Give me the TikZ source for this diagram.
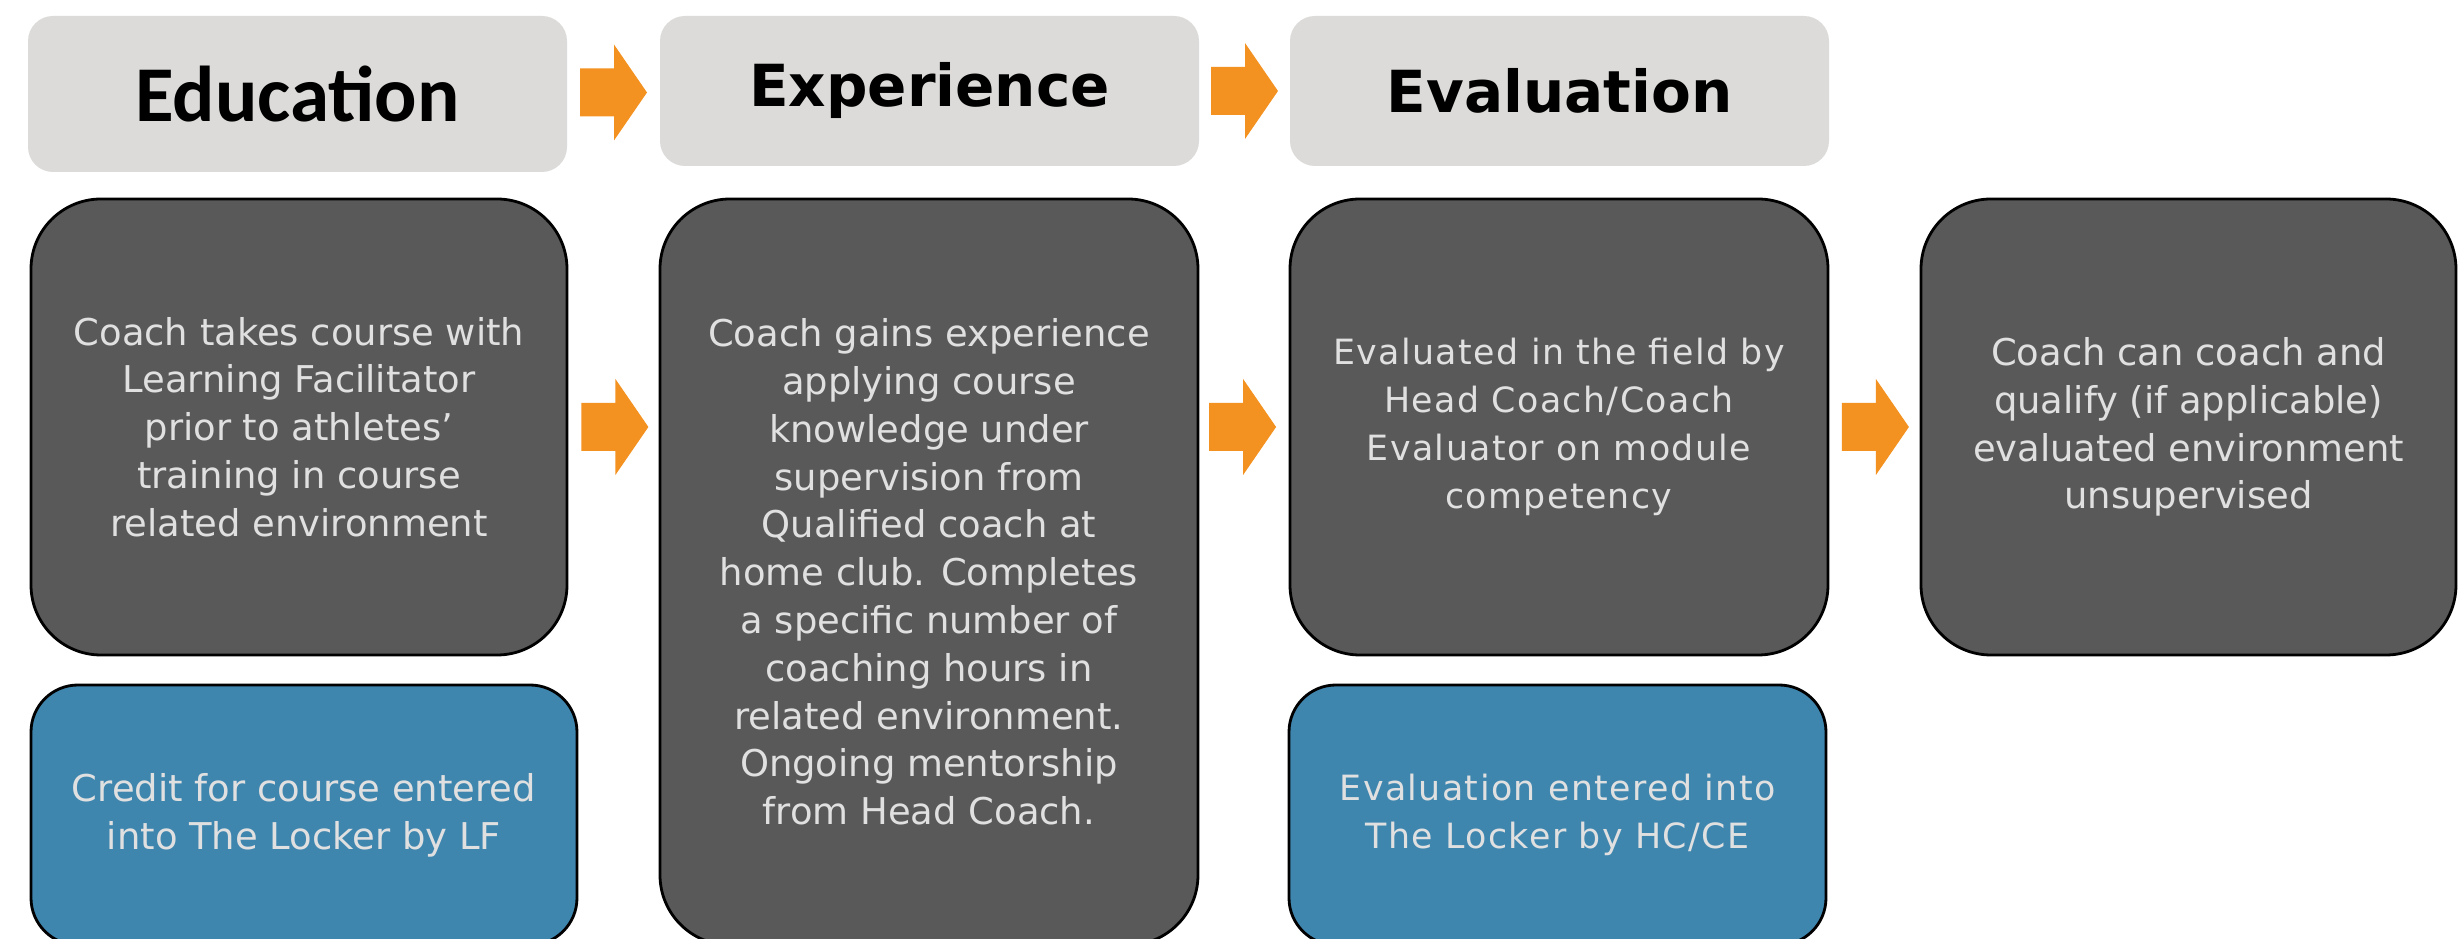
\documentclass[tikz,border=0pt]{standalone}
\usepackage{fontspec}
\setmainfont{DejaVu Sans}
\newfontfamily\calfont{Carlito}
\newfontfamily\spacedfont{DejaVu Sans}[LetterSpace=4]
\usetikzlibrary{calc}
\definecolor{headgray}{HTML}{DCDBD9}
\definecolor{boxgray}{HTML}{595959}
\definecolor{textgray}{HTML}{E0E0E0}
\definecolor{lockerblue}{HTML}{3F86AF}
\definecolor{arrowor}{HTML}{F39221}
\tikzset{
	header/.style={fill=headgray,rounded corners=0.25cm,minimum width=5.39cm,inner sep=0pt,align=center},
	stepbox/.style={draw=black,line width=0.8pt,fill=boxgray,rounded corners=0.7cm,minimum width=5.36cm,inner sep=0pt,align=center,text=textgray,font=\fontsize{10.5}{13.6}\selectfont},
	lockerbox/.style={draw=black,line width=0.8pt,fill=lockerblue,rounded corners=0.47cm,inner sep=0pt,align=center,text=textgray,font=\fontsize{10.5}{13.6}\selectfont}
}
\newcommand{\fatarrow}[1]{
	\fill[arrowor] #1 ++(-0.335,0.24) -- ++(0.34,0) -- ++(0,0.24) -- ++(0.33,-0.48) -- ++(-0.33,-0.48) -- ++(0,0.24) -- ++(-0.34,0) -- cycle;
}
\begin{document}
\begin{tikzpicture}
				\useasboundingbox (0,0) rectangle (24.58,-9.39);
				\node[header,minimum height=1.56cm,font=\calfont\bfseries\fontsize{22.5}{26}\selectfont] (edu) at (2.975,-0.94) {Education};
				\node[header,minimum height=1.50cm,font=\bfseries\fontsize{16.5}{20}\selectfont] (exp) at (9.295,-0.91) {Experience};
				\node[header,minimum height=1.50cm,font=\bfseries\fontsize{16.5}{20}\selectfont] (eval) at (15.595,-0.91) {Evaluation};
				\node[stepbox,minimum height=4.56cm] (course) at (2.99,-4.27) {Coach takes course with\\Learning Facilitator\\prior to athletes'\\training in course\\related environment};
				\node[stepbox,minimum width=5.38cm,minimum height=7.46cm] (practice) at (9.29,-5.72) {Coach gains experience\\applying course\\knowledge under\\supervision from\\Qualified coach at\\home club. Completes\\a specific number of\\coaching hours in\\related environment.\\Ongoing mentorship\\from Head Coach.};
				\node[stepbox,minimum width=5.38cm,minimum height=4.56cm,font=\spacedfont\fontsize{9.9}{13.6}\selectfont] (field) at (15.59,-4.27) {Evaluated in the field by\\Head Coach/Coach\\Evaluator on module\\competency};
				\node[stepbox,minimum width=5.35cm,minimum height=4.56cm] (qualify) at (21.885,-4.27) {Coach can coach and\\qualify (if applicable)\\evaluated environment\\unsupervised};
				\node[lockerbox,minimum width=5.46cm,minimum height=2.6cm] (credit) at (3.04,-8.15) {Credit for course entered\\into The Locker by LF};
				\node[lockerbox,minimum width=5.37cm,minimum height=2.6cm,font=\spacedfont\fontsize{9.9}{13.6}\selectfont] (entry) at (15.575,-8.15) {Evaluation entered into\\The Locker by HC/CE};
				\fatarrow{($(edu.east)!0.5!(exp.west)$)}
				\fatarrow{($(exp.east)!0.5!(eval.west)$)}
				\fatarrow{($(course.east)+(0.465,0)$)}
				\fatarrow{($(field.west)+(-0.46,0)$)}
				\fatarrow{($(field.east)+(0.46,0)$)}
			\end{tikzpicture}
\end{document}
